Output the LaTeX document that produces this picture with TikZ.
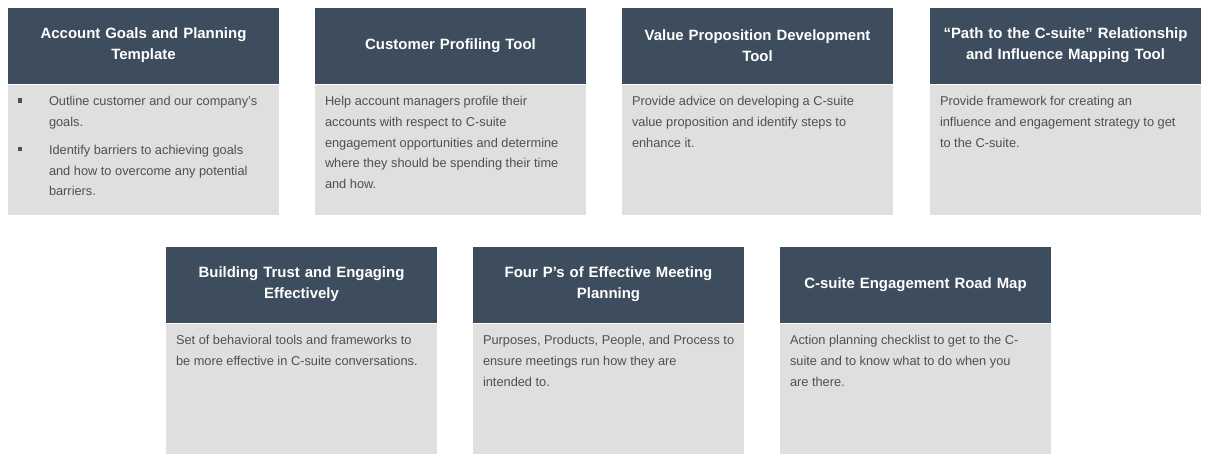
\documentclass[tikz,border=0pt]{standalone}
\usepackage{fontspec}
\setmainfont{Liberation Sans}
\usetikzlibrary{positioning}

\tikzset{every picture/.style={line width=0.75pt}}
\tikzset{
	headbox/.style={rectangle, anchor=north west, fill={rgb, 255:red, 62; green, 77; blue, 94 }, minimum width=203.25pt, minimum height=57pt, text width=196pt, align=center, inner sep=0pt, text=white, font=\bfseries\fontsize{11.2}{15.75}\selectfont},
	bodybox/.style={rectangle, anchor=north, fill={rgb, 255:red, 223; green, 223; blue, 223 }, minimum width=203.25pt, minimum height=97.5pt, inner sep=0pt},
	bodytext/.style={below right=9pt and 7.5pt of #1, anchor=north west, align=left, inner sep=0pt, text={rgb, 255:red, 78; green, 80; blue, 84 }, font=\fontsize{9.6}{15.5}\selectfont},
}
\newcommand{\sqbullet}{\makebox[23.25pt][l]{\rule[2.3pt]{3.2pt}{3.2pt}}}

\begin{document}
\begin{tikzpicture}[x=0.75pt,y=0.75pt,yscale=-1,xscale=1]
	%set diagram left start at 0, and has height of 457
	\path (0,0) rectangle (1210,457);
	
	%Shape: Rectangle [id:goals] 
	\node [headbox] (goalsHead) at (7.5,7) {Account Goals and Planning\\Template};
	\node [bodybox] (goalsBody) at (goalsHead.south) {};
	\node [bodytext=goalsBody.north west] (goalsText) {\sqbullet Outline customer and our company's\\\hspace*{23.25pt}goals.\\[5.5pt]\sqbullet Identify barriers to achieving goals\\\hspace*{23.25pt}and how to overcome any potential\\\hspace*{23.25pt}barriers.};
	
	%Shape: Rectangle [id:profiling] 
	\node [headbox] (profHead) at (314.5,7) {Customer Profiling Tool};
	\node [bodybox] (profBody) at (profHead.south) {};
	\node [bodytext=profBody.north west] (profText) {Help account managers profile their\\accounts with respect to C-suite\\engagement opportunities and determine\\where they should be spending their time\\and how.};
	
	%Shape: Rectangle [id:valueprop] 
	\node [headbox] (valueHead) at (621.5,7) {Value Proposition Development\\Tool};
	\node [bodybox] (valueBody) at (valueHead.south) {};
	\node [bodytext=valueBody.north west] (valueText) {Provide advice on developing a C-suite\\value proposition and identify steps to\\enhance it.};
	
	%Shape: Rectangle [id:pathmap] 
	\node [headbox] (pathHead) at (929.5,7) {“Path to the C-suite” Relationship\\and Influence Mapping Tool};
	\node [bodybox] (pathBody) at (pathHead.south) {};
	\node [bodytext=pathBody.north west] (pathText) {Provide framework for creating an\\influence and engagement strategy to get\\to the C-suite.};
	
	%Shape: Rectangle [id:trust] 
	\node [headbox] (trustHead) at (165.5,246) {Building Trust and Engaging\\Effectively};
	\node [bodybox] (trustBody) at (trustHead.south) {};
	\node [bodytext=trustBody.north west] (trustText) {Set of behavioral tools and frameworks to\\be more effective in C-suite conversations.};
	
	%Shape: Rectangle [id:fourps] 
	\node [headbox] (fourHead) at (472.5,246) {Four P’s of Effective Meeting\\Planning};
	\node [bodybox] (fourBody) at (fourHead.south) {};
	\node [bodytext=fourBody.north west] (fourText) {Purposes, Products, People, and Process to\\ensure meetings run how they are\\intended to.};
	
	%Shape: Rectangle [id:roadmap] 
	\node [headbox] (roadHead) at (779.5,246) {C-suite Engagement Road Map};
	\node [bodybox] (roadBody) at (roadHead.south) {};
	\node [bodytext=roadBody.north west] (roadText) {Action planning checklist to get to the C-\\suite and to know what to do when you\\are there.};
	
\end{tikzpicture}
\end{document}
